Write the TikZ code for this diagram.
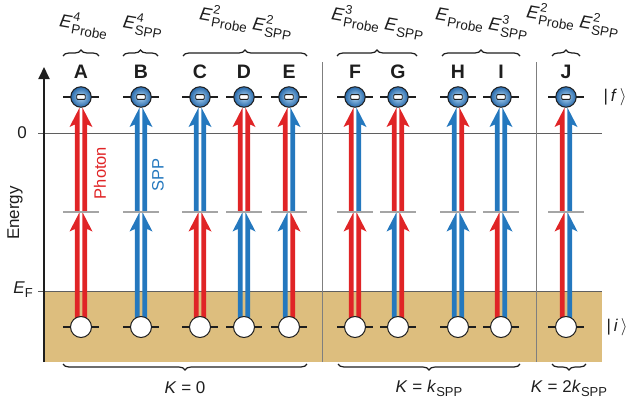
\documentclass[tikz,border=0pt]{standalone}
\usepackage{fontspec}
\setmainfont{Liberation Sans}
\usetikzlibrary{arrows.meta,decorations.pathreplacing}

\definecolor{photonred}{RGB}{224,36,38}
\definecolor{sppblue}{RGB}{36,120,190}
\definecolor{fermisea}{RGB}{221,190,126}
\definecolor{midgray}{RGB}{165,165,165}
\definecolor{rulegray}{RGB}{95,95,95}
\definecolor{balllight}{RGB}{175,213,242}
\definecolor{balldark}{RGB}{38,104,170}
\definecolor{ink}{RGB}{30,30,30}

% field amplitude label: E with superscript #1 and subscript #2
\newcommand\Efield[2]{\textit{E}\kern0.6pt\rlap{\raisebox{8.5pt}{\fontsize{12.5}{13}\selectfont #1}}\raisebox{-5pt}{\fontsize{13.5}{14}\selectfont #2}}

% one half of a split double arrow:
% #1 x, #2 side (-1 left, 1 right), #3 base y, #4 tip y, #5 colour
\newcommand\halfarrow[5]{%
  \fill[#5] ({#1+(#2)*1.4},#3) -- ({#1+(#2)*1.4},#4) -- ({#1+(#2)*11.5},{#4+19.5})
    -- ({#1+(#2)*6.2},{#4+17}) -- ({#1+(#2)*6.2},#3) -- cycle;}

\begin{document}
\begin{tikzpicture}[x=1pt,y=-1pt,
  leveltick/.style={draw=ink,line width=1.8pt},
  midtick/.style={draw=midgray,line width=1.6pt},
  sepline/.style={draw=rulegray!80,line width=0.9pt},
  axisline/.style={draw=ink,line width=1.8pt,-{Triangle[length=12pt,width=11pt]}},
  finalstate/.style={circle,minimum size=20.5pt,inner sep=0pt,draw=ink,line width=1pt,
    inner color=balllight,outer color=balldark},
  electron/.style={draw=ink,fill=white,rectangle,rounded corners=0.8pt,minimum width=8.5pt,
    minimum height=4.8pt,inner sep=0pt,line width=0.9pt},
  initstate/.style={circle,minimum size=21pt,inner sep=0pt,draw=ink,line width=1pt,fill=white},
  letter/.style={font=\fontsize{19.5}{22}\selectfont\bfseries,text=ink},
  lbl/.style={font=\fontsize{17}{20}\selectfont,text=ink},
  toplbl/.style={font=\fontsize{18}{20}\selectfont,text=ink,rotate=-10},
  bracetop/.style={draw=ink,line width=1.2pt,decorate,decoration={brace,amplitude=6pt}},
  bracebot/.style={draw=ink,line width=1.2pt,decorate,decoration={brace,amplitude=6pt,mirror}}]
\useasboundingbox (0,0) rectangle (637,402);

% Fermi sea and reference levels
\fill[fermisea] (44,291) rectangle (602,362);
\draw[rulegray,line width=0.9pt] (38,291) -- (602,291);
\draw[rulegray,line width=1pt] (38,133) -- (602,133);
\draw[sepline] (322,62) -- (322,362);
\draw[sepline] (536,62) -- (536,362);
\draw[axisline] (44,362) -- (44,67);

\node[lbl] (zero) at (22,133) {0};
\node[lbl] (ef) at (23,290) {\textit{E}\raisebox{-4pt}{\fontsize{13}{14}\selectfont F}};
\node[lbl,rotate=90] (energy) at (15,213) {Energy};

% pathways: x / name / lower-left / lower-right / upper-left / upper-right
\foreach \x/\n/\lL/\lR/\uL/\uR in {
  81/A/photonred/photonred/photonred/photonred,
  141/B/sppblue/sppblue/sppblue/sppblue,
  200/C/photonred/photonred/sppblue/sppblue,
  244/D/sppblue/sppblue/photonred/photonred,
  289/E/sppblue/photonred/photonred/sppblue,
  355/F/photonred/photonred/photonred/sppblue,
  398/G/sppblue/photonred/photonred/photonred,
  458/H/sppblue/sppblue/sppblue/photonred,
  501/I/photonred/sppblue/sppblue/sppblue,
  566/J/photonred/sppblue/photonred/sppblue}{
  \draw[leveltick] (\x-18,97) -- (\x+18,97);
  \draw[leveltick] (\x-18,327) -- (\x+18,327);
  \halfarrow{\x}{-1}{318}{212}{\lL}
  \halfarrow{\x}{1}{318}{212}{\lR}
  \halfarrow{\x}{-1}{212}{107.5}{\uL}
  \halfarrow{\x}{1}{212}{107.5}{\uR}
  \draw[midtick] (\x-18,212) -- (\x+18,212);
  \node[finalstate] (f\n) at (\x,97) {};
  \node[electron] (e\n) at (f\n) {};
  \node[initstate] (i\n) at (\x,327) {};
  \node[letter] (l\n) at (\x,72) {\n};
}

\node[lbl,text=photonred,rotate=90,font=\fontsize{16.5}{18}\selectfont] (photon) at (100,173) {Photon};
\node[lbl,text=sppblue,rotate=90,font=\fontsize{16.5}{18}\selectfont] (spp) at (158,175) {SPP};

\node[lbl] (ketf) at (615,97) {|\,\textit{f}\,$\rangle$};
\node[lbl] (keti) at (617,327) {|\,\textit{i}\,$\rangle$};

% field-order braces
\draw[bracetop] (63,56) -- (99,56);
\draw[bracetop] (123,56) -- (158,56);
\draw[bracetop] (183,56) -- (307,56);
\draw[bracetop] (337,56) -- (417,56);
\draw[bracetop] (442,56) -- (520,56);
\draw[bracetop] (552,56) -- (580,56);
\node[toplbl] (tA) at (84,25) {\Efield{4}{Probe}};
\node[toplbl] (tB) at (143,25) {\Efield{4}{SPP}};
\node[toplbl] (tCE) at (246,22) {\Efield{2}{Probe} \Efield{2}{SPP}};
\node[toplbl] (tFG) at (378,22) {\Efield{3}{Probe} \Efield{}{SPP}};
\node[toplbl] (tHI) at (482,22) {\Efield{}{Probe} \Efield{3}{SPP}};
\node[toplbl] (tJ) at (573,20) {\Efield{2}{Probe} \Efield{2}{SPP}};

% momentum braces
\draw[bracebot] (63,364) -- (307,364);
\draw[bracebot] (338,364) -- (520,364);
\draw[bracebot] (552,364) -- (586,364);
\node[lbl] (k0) at (185,388) {\textit{K} = 0};
\node[lbl] (k1) at (429,388) {\textit{K} = \textit{k}\raisebox{-4pt}{\fontsize{13}{14}\selectfont SPP}};
\node[lbl] (k2) at (569,388) {\textit{K} = 2\textit{k}\raisebox{-4pt}{\fontsize{13}{14}\selectfont SPP}};
\end{tikzpicture}
\end{document}
